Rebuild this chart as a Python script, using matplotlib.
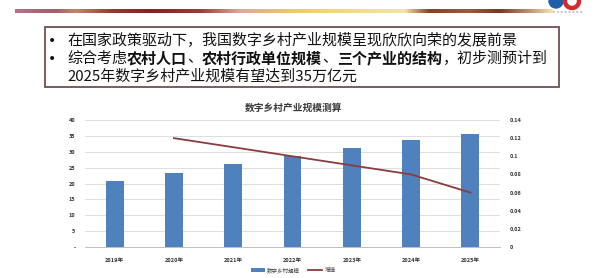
import numpy as np
import matplotlib
matplotlib.use("Agg")
import matplotlib.pyplot as plt
from matplotlib.colors import LinearSegmentedColormap
from matplotlib.patches import Rectangle, Circle, Wedge

plt.rcParams['font.family'] = ['Noto Sans CJK SC', 'DejaVu Sans']

# ---- data ----
years = ['2019年', '2020年', '2021年', '2022年', '2023年', '2024年', '2025年']
scale = [20.8, 23.3, 26.0, 28.7, 31.1, 33.6, 35.6]          # 万亿元
growth_years = ['2020年', '2021年', '2022年', '2023年', '2024年', '2025年']
growth = [0.12, 0.11, 0.10, 0.09, 0.08, 0.06]
left_ticks = [0, 5, 10, 15, 20, 25, 30, 35, 40]
left_labels = ['-', '5', '10', '15', '20', '25', '30', '35', '40']
right_ticks = [0, 0.02, 0.04, 0.06, 0.08, 0.10, 0.12, 0.14]
right_labels = ['0', '0.02', '0.04', '0.06', '0.08', '0.1', '0.12', '0.14']
title = '数字乡村产业规模测算'
bar_name = '数字乡村规模'
line_name = '增速'
bullet_1 = [('在国家政策驱动下，我国数字乡村产业规模呈现欣欣向荣的发展前景', False)]
bullet_2 = [('综合考虑', False), ('农村人口', True), ('、', False),
            ('农村行政单位规模', True), ('、', False), ('三个产业的结构', True),
            ('，初步测预计到', False)]
bullet_2b = [('2025年数字乡村产业规模有望达到35万亿元', False)]

W, H = 600, 278
fig = plt.figure(figsize=(W / 100, H / 100), dpi=100)
fig.patch.set_facecolor('white')

# full-figure layer in pixel units for the slide decoration
bg = fig.add_axes([0, 0, 1, 1], zorder=0)
bg.set_xlim(0, W)
bg.set_ylim(H, 0)
bg.axis('off')

# header swoosh band
band_stops = [(15, '#b8728a'), (55, '#a85a68'), (75, '#c08a68'), (110, '#9a3a30'),
              (150, '#8a2020'), (200, '#a03a35'), (240, '#e0a898'), (290, '#f0c860'),
              (330, '#f2d870'), (405, '#f2e4a8'), (430, '#8a4020'), (470, '#a05a3a'),
              (500, '#7a3520'), (530, '#c09070'), (553, '#f0e4b0')]
x0, x1 = band_stops[0][0], band_stops[-1][0]
cmap = LinearSegmentedColormap.from_list(
    'band', [((x - x0) / (x1 - x0), c) for x, c in band_stops])
grad = np.linspace(0, 1, 512).reshape(1, -1)
bg.imshow(grad, cmap=cmap, aspect='auto', extent=(x0, x1, 13.5, 10), zorder=1)
bg.plot([x1, 583], [11.8, 11.8], color='#c8c8c8', lw=1.4, ls=(0, (1, 1)), zorder=1)

# logo in the corner
bg.add_patch(Circle((556, 1), 7, color='#1f5fa8', zorder=2))
bg.add_patch(Wedge((572, 1), 8.5, 0, 360, width=3, color='#d42a2a', zorder=2))

# text box
bg.add_patch(Rectangle((45, 27), 514, 59.5, fill=False, ec='#6e5050', lw=1.3, zorder=2))

fig.canvas.draw()
renderer = fig.canvas.get_renderer()
FS = 10.8


def draw_runs(x, y, runs):
    for s, bold in runs:
        t = bg.text(x, y, s, fontsize=FS, fontweight='bold' if bold else 'normal',
                    ha='left', va='center', color='#111111', zorder=3)
        x += t.get_window_extent(renderer=renderer).width


bg.text(52, 40.5, '•', fontsize=10, ha='center', va='center', color='#111111',
        family='DejaVu Sans')
bg.text(52, 58.5, '•', fontsize=10, ha='center', va='center', color='#111111',
        family='DejaVu Sans')
draw_runs(67, 40.5, bullet_1)
draw_runs(67, 58.5, bullet_2)
draw_runs(67, 76.5, bullet_2b)

# chart
ax = fig.add_axes([85 / W, 1 - 247 / H, 415 / W, 127 / H], zorder=2)
ax.patch.set_alpha(0)
xs = np.arange(len(years))
ax.bar(xs, scale, width=0.3, color='#4f81bd', zorder=2, label=bar_name)
ax.set_xlim(-0.5, len(years) - 0.5)
ax.set_ylim(0, 40)
ax.set_yticks(left_ticks)
ax.set_yticklabels(left_labels, fontweight='bold')
ax.set_xticks(xs)
ax.set_xticklabels(years, fontweight='bold')
ax.grid(axis='y', color='#d9d9d9', lw=0.6, zorder=0)
for s in ['top', 'left', 'right']:
    ax.spines[s].set_visible(False)
ax.spines['bottom'].set_color('#bfbfbf')
ax.spines['bottom'].set_linewidth(0.7)
ax.tick_params(axis='both', length=0, labelsize=4, labelcolor='#333333')
ax.tick_params(axis='x', pad=8)
ax.tick_params(axis='y', pad=7)

ax2 = ax.twinx()
gx = [years.index(y) for y in growth_years]
ax2.plot(gx, growth, color='#8c3b3f', lw=1.3, zorder=3, label=line_name)
ax2.set_ylim(0, 0.14)
ax2.set_yticks(right_ticks)
ax2.set_yticklabels(right_labels, fontweight='bold')
for s in ['top', 'left', 'right', 'bottom']:
    ax2.spines[s].set_visible(False)
ax2.tick_params(axis='y', length=0, labelsize=4, labelcolor='#333333', pad=7)

fig.text(294 / W, 1 - 107.5 / H, title, fontsize=7, fontweight='bold',
         color='#3a3a3a', ha='center', va='center')

h1, l1 = ax.get_legend_handles_labels()
h2, l2 = ax2.get_legend_handles_labels()
fig.legend(h1 + h2, l1 + l2, loc='center', bbox_to_anchor=(293 / W, 1 - 270 / H),
           ncol=2, frameon=False, fontsize=4, handlelength=2.5, handleheight=0.6,
           columnspacing=1.5, handletextpad=0.4, labelcolor='#404040')

fig.savefig('out.png', dpi=100, facecolor='white')
